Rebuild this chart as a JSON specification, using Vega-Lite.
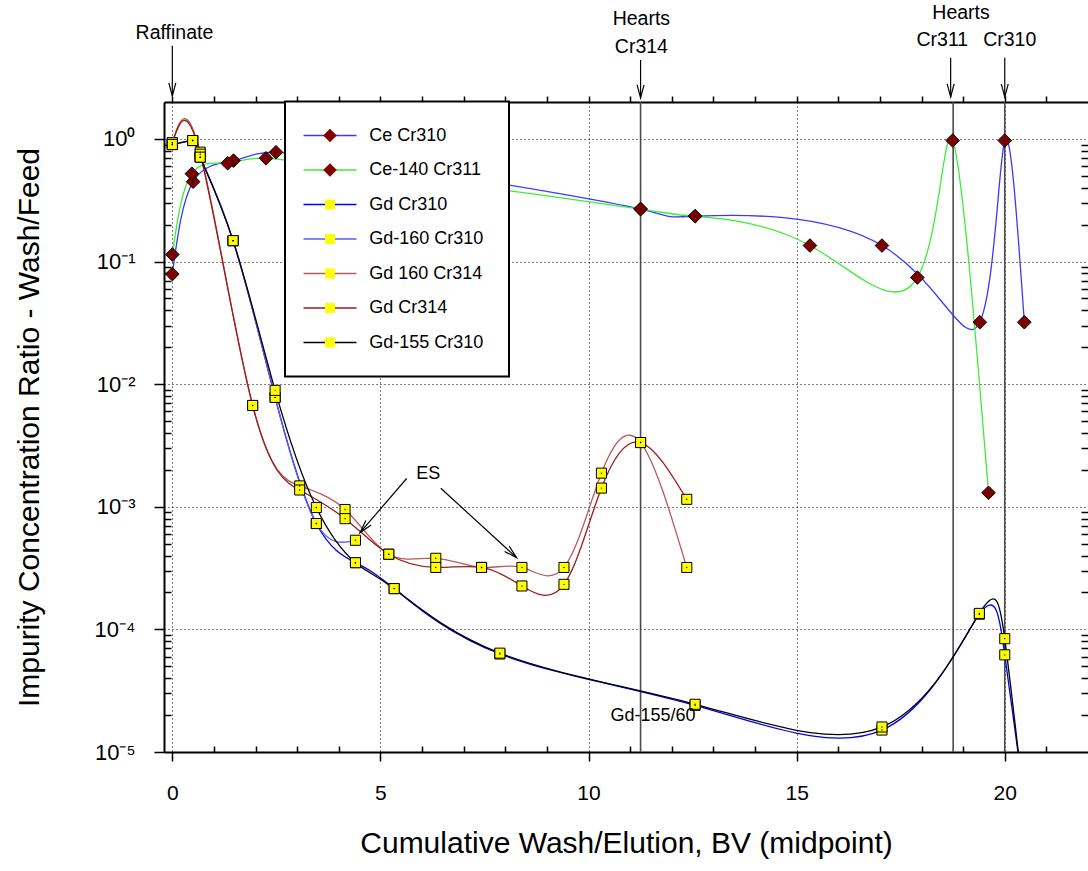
{
  "$schema": "https://vega.github.io/schema/vega-lite/v6.json",
  "width": 924,
  "height": 650,
  "autosize": {"type": "none"},
  "padding": {"left": 164, "top": 102, "right": 0, "bottom": 119},
  "background": "white",
  "config": {
    "view": {"stroke": null},
    "font": "Liberation Sans",
    "legend": {"strokeWidth": 2}
  },
  "datasets": {
    "pts": [
      {"series": "Ce Cr310", "bv": 0, "ratio": 0.079},
      {"series": "Ce Cr310", "bv": 0.5, "ratio": 0.448},
      {"series": "Ce Cr310", "bv": 1.47, "ratio": 0.665},
      {"series": "Ce Cr310", "bv": 2.49, "ratio": 0.778},
      {"series": "Ce Cr310", "bv": 4.5, "ratio": 0.629},
      {"series": "Ce Cr310", "bv": 7.0, "ratio": 0.481},
      {"series": "Ce Cr310", "bv": 11.25, "ratio": 0.268},
      {"series": "Ce Cr310", "bv": 12.56, "ratio": 0.234},
      {"series": "Ce Cr310", "bv": 17.05, "ratio": 0.135},
      {"series": "Ce Cr310", "bv": 19.4, "ratio": 0.032},
      {"series": "Ce Cr310", "bv": 20.0, "ratio": 0.97},
      {"series": "Ce Cr310", "bv": 20.47, "ratio": 0.032},
      {"series": "Ce-140 Cr311", "bv": 0, "ratio": 0.114},
      {"series": "Ce-140 Cr311", "bv": 0.47, "ratio": 0.52},
      {"series": "Ce-140 Cr311", "bv": 1.33, "ratio": 0.633},
      {"series": "Ce-140 Cr311", "bv": 2.25, "ratio": 0.695},
      {"series": "Ce-140 Cr311", "bv": 4.5, "ratio": 0.55},
      {"series": "Ce-140 Cr311", "bv": 7.0, "ratio": 0.424},
      {"series": "Ce-140 Cr311", "bv": 11.25, "ratio": 0.268},
      {"series": "Ce-140 Cr311", "bv": 12.56, "ratio": 0.234},
      {"series": "Ce-140 Cr311", "bv": 15.32, "ratio": 0.135},
      {"series": "Ce-140 Cr311", "bv": 17.9, "ratio": 0.074},
      {"series": "Ce-140 Cr311", "bv": 18.75, "ratio": 0.97},
      {"series": "Ce-140 Cr311", "bv": 19.61, "ratio": 0.0013},
      {"series": "Gd Cr310", "bv": 0, "ratio": 0.9},
      {"series": "Gd Cr310", "bv": 0.49, "ratio": 0.97},
      {"series": "Gd Cr310", "bv": 0.67, "ratio": 0.71},
      {"series": "Gd Cr310", "bv": 1.46, "ratio": 0.148},
      {"series": "Gd Cr310", "bv": 2.47, "ratio": 0.0078},
      {"series": "Gd Cr310", "bv": 3.46, "ratio": 0.00073},
      {"series": "Gd Cr310", "bv": 4.4, "ratio": 0.00035},
      {"series": "Gd Cr310", "bv": 5.33, "ratio": 0.000215},
      {"series": "Gd Cr310", "bv": 7.87, "ratio": 0.000063},
      {"series": "Gd Cr310", "bv": 12.56, "ratio": 0.000024},
      {"series": "Gd Cr310", "bv": 17.05, "ratio": 0.0000151},
      {"series": "Gd Cr310", "bv": 19.39, "ratio": 0.000133},
      {"series": "Gd Cr310", "bv": 20.0, "ratio": 0.000062},
      {"series": "Gd Cr310", "bv": 20.5, "ratio": 0.0000035},
      {"series": "Gd-160 Cr310", "bv": 0, "ratio": 0.9},
      {"series": "Gd-160 Cr310", "bv": 0.49, "ratio": 0.97},
      {"series": "Gd-160 Cr310", "bv": 0.67, "ratio": 0.71},
      {"series": "Gd-160 Cr310", "bv": 1.46, "ratio": 0.148},
      {"series": "Gd-160 Cr310", "bv": 2.47, "ratio": 0.0078},
      {"series": "Gd-160 Cr310", "bv": 3.46, "ratio": 0.00073},
      {"series": "Gd-160 Cr310", "bv": 4.4, "ratio": 0.000533},
      {"series": "Gd 160 Cr314", "bv": 0, "ratio": 0.93},
      {"series": "Gd 160 Cr314", "bv": 0.67, "ratio": 0.78},
      {"series": "Gd 160 Cr314", "bv": 1.93, "ratio": 0.0067},
      {"series": "Gd 160 Cr314", "bv": 3.06, "ratio": 0.00148},
      {"series": "Gd 160 Cr314", "bv": 4.15, "ratio": 0.00095},
      {"series": "Gd 160 Cr314", "bv": 5.2, "ratio": 0.00041},
      {"series": "Gd 160 Cr314", "bv": 6.33, "ratio": 0.00038},
      {"series": "Gd 160 Cr314", "bv": 7.43, "ratio": 0.00032},
      {"series": "Gd 160 Cr314", "bv": 8.4, "ratio": 0.00032},
      {"series": "Gd 160 Cr314", "bv": 9.41, "ratio": 0.00032},
      {"series": "Gd 160 Cr314", "bv": 10.31, "ratio": 0.00188},
      {"series": "Gd 160 Cr314", "bv": 11.25, "ratio": 0.00334},
      {"series": "Gd 160 Cr314", "bv": 12.36, "ratio": 0.00032},
      {"series": "Gd Cr314", "bv": 0, "ratio": 0.93},
      {"series": "Gd Cr314", "bv": 0.67, "ratio": 0.75},
      {"series": "Gd Cr314", "bv": 1.93, "ratio": 0.0067},
      {"series": "Gd Cr314", "bv": 3.06, "ratio": 0.00137},
      {"series": "Gd Cr314", "bv": 4.15, "ratio": 0.0008},
      {"series": "Gd Cr314", "bv": 5.2, "ratio": 0.00041},
      {"series": "Gd Cr314", "bv": 6.33, "ratio": 0.00032},
      {"series": "Gd Cr314", "bv": 7.43, "ratio": 0.00032},
      {"series": "Gd Cr314", "bv": 8.4, "ratio": 0.000226},
      {"series": "Gd Cr314", "bv": 9.41, "ratio": 0.000233},
      {"series": "Gd Cr314", "bv": 10.31, "ratio": 0.00142},
      {"series": "Gd Cr314", "bv": 11.25, "ratio": 0.00334},
      {"series": "Gd Cr314", "bv": 12.36, "ratio": 0.00115},
      {"series": "Gd-155 Cr310", "bv": 0, "ratio": 0.9},
      {"series": "Gd-155 Cr310", "bv": 0.49, "ratio": 0.97},
      {"series": "Gd-155 Cr310", "bv": 0.67, "ratio": 0.71},
      {"series": "Gd-155 Cr310", "bv": 1.46, "ratio": 0.148},
      {"series": "Gd-155 Cr310", "bv": 2.47, "ratio": 0.0089},
      {"series": "Gd-155 Cr310", "bv": 3.46, "ratio": 0.000985},
      {"series": "Gd-155 Cr310", "bv": 4.4, "ratio": 0.00035},
      {"series": "Gd-155 Cr310", "bv": 5.33, "ratio": 0.000215},
      {"series": "Gd-155 Cr310", "bv": 7.87, "ratio": 0.000064},
      {"series": "Gd-155 Cr310", "bv": 12.56, "ratio": 0.0000245},
      {"series": "Gd-155 Cr310", "bv": 17.05, "ratio": 0.000016},
      {"series": "Gd-155 Cr310", "bv": 19.39, "ratio": 0.000135},
      {"series": "Gd-155 Cr310", "bv": 20.0, "ratio": 0.000084},
      {"series": "Gd-155 Cr310", "bv": 20.5, "ratio": 0.000003}
    ],
    "hearts": [{"bv": 11.25}, {"bv": 18.76}, {"bv": 20.0}],
    "notes": [
      {"label": "Raffinate", "bv": 0.05, "ratio": 7.33},
      {"label": "Hearts", "bv": 11.27, "ratio": 9.5},
      {"label": "Cr314", "bv": 11.27, "ratio": 5.6},
      {"label": "Hearts", "bv": 18.95, "ratio": 10.7},
      {"label": "Cr311", "bv": 18.5, "ratio": 6.4},
      {"label": "Cr310", "bv": 20.12, "ratio": 6.4}
    ],
    "arrows": [
      {"bv": 0, "ratio": 5.74, "ratio2": 2.24},
      {"bv": 11.25, "ratio": 4.4, "ratio2": 2.16},
      {"bv": 18.7, "ratio": 4.6, "ratio2": 2.2},
      {"bv": 20.0, "ratio": 4.6, "ratio2": 2.2}
    ],
    "esArrows": [
      {"id": 1, "bv": 5.63, "ratio": 0.0017, "bv2": 4.51, "ratio2": 0.000615},
      {"id": 2, "bv": 6.45, "ratio": 0.001416, "bv2": 8.27, "ratio2": 0.000385}
    ],
    "inner": [
      {"label": "ES", "bv": 6.15, "ratio": 0.00184},
      {"label": "Gd-155/60", "bv": 11.55, "ratio": 0.0000196}
    ]
  },
  "layer": [
    {
      "layer": [
        {
          "data": {"name": "hearts"},
          "mark": {"type": "rule", "color": "#4d4d4d", "strokeWidth": 1.6, "clip": true},
          "encoding": {
            "x": {
              "field": "bv", "type": "quantitative",
              "scale": {"domain": [-0.2, 22], "nice": false, "zero": false},
              "axis": {
                "orient": "bottom", "values": [0, 5, 10, 15, 20],
                "tickSize": 9, "tickWidth": 1.5, "tickColor": "black",
                "domainColor": "black", "domainWidth": 2,
                "labelFont": "Liberation Sans", "labelFontSize": 21, "labelColor": "black",
                "labelPadding": 21, "labelFlush": false, "labelOverlap": false,
                "title": "Cumulative Wash/Elution, BV (midpoint)",
                "titleFont": "Liberation Sans", "titleFontSize": 30, "titleFontWeight": "normal",
                "titleColor": "black", "titlePadding": 25,
                "grid": true, "gridColor": "black", "gridDash": [1, 3], "gridWidth": 1, "gridOpacity": 1
              }
            }
          }
        },
        {
          "data": {"name": "pts"},
          "mark": {"type": "line", "interpolate": "natural", "strokeWidth": 1.3, "clip": true},
          "encoding": {
            "x": {"field": "bv", "type": "quantitative"},
            "y": {
              "field": "ratio", "type": "quantitative",
              "scale": {"type": "log", "domain": [0.00001, 2], "nice": false},
              "axis": {
                "orient": "left", "values": [0.00001, 0.0001, 0.001, 0.01, 0.1, 1],
                "labelExpr": "datum.value > 0.5 ? '10⁰' : datum.value > 0.05 ? '10⁻¹' : datum.value > 0.005 ? '10⁻²' : datum.value > 0.0005 ? '10⁻³' : datum.value > 0.00005 ? '10⁻⁴' : '10⁻⁵'",
                "tickSize": 10, "tickWidth": 1.5, "tickColor": "black",
                "domainColor": "black", "domainWidth": 2,
                "labelFont": "Liberation Sans", "labelFontSize": 22, "labelColor": "black",
                "labelPadding": 19, "labelOverlap": false, "labelFlush": false,
                "title": "Impurity Concentration Ratio - Wash/Feed",
                "titleFont": "Liberation Sans", "titleFontSize": 30, "titleFontWeight": "normal",
                "titleColor": "black", "titlePadding": 50,
                "grid": true, "gridColor": "black", "gridDash": [1, 3], "gridWidth": 1, "gridOpacity": 1
              }
            },
            "stroke": {
              "field": "series", "type": "nominal",
              "sort": ["Ce Cr310", "Ce-140 Cr311", "Gd Cr310", "Gd-160 Cr310", "Gd 160 Cr314", "Gd Cr314", "Gd-155 Cr310"],
              "scale": {
                "range": ["#3a3aff", "#3ced3c", "#0000ee", "#5a5aff", "#b35c5c", "#9e1c1c", "#000000"]
              },
              "legend": {
                "orient": "none", "legendX": 121, "legendY": -0.5, "title": null,
                "symbolType": "M-5.3,0H5.3", "symbolSize": 100, "symbolStrokeWidth": 1.5,
                "symbolOffset": 11, "labelOffset": 30.3,
                "labelFont": "Liberation Sans", "labelFontSize": 18, "labelColor": "black", "labelLimit": 300,
                "padding": 25, "rowPadding": 16.5,
                "strokeColor": "black", "fillColor": "white"
              }
            }
          }
        },
        {
          "data": {"name": "pts"},
          "mark": {"type": "point", "filled": true, "stroke": "black", "strokeWidth": 1, "opacity": 1, "size": 140, "clip": true},
          "encoding": {
            "x": {"field": "bv", "type": "quantitative"},
            "y": {"field": "ratio", "type": "quantitative"},
            "fill": {
              "field": "series", "type": "nominal",
              "scale": {
                "domain": ["Ce Cr310", "Ce-140 Cr311", "Gd Cr310", "Gd-160 Cr310", "Gd 160 Cr314", "Gd Cr314", "Gd-155 Cr310"],
                "range": ["#800000", "#800000", "#ffff00", "#ffff00", "#ffff00", "#ffff00", "#ffff00"]
              },
              "legend": {
                "orient": "none", "legendX": 121, "legendY": -0.5, "title": null,
                "symbolSize": 140, "symbolStrokeColor": "black", "symbolStrokeWidth": 1,
                "symbolOffset": 11, "labelOffset": 30.3,
                "labelFont": "Liberation Sans", "labelFontSize": 18, "labelColor": "black", "labelLimit": 300,
                "labelOpacity": 0,
                "padding": 25, "rowPadding": 16.5,
                "encode": {"symbols": {"update": {"stroke": {"value": "black"}, "strokeWidth": {"value": 1}}}}
              }
            },
            "shape": {
              "field": "series", "type": "nominal",
              "scale": {
                "domain": ["Ce Cr310", "Ce-140 Cr311", "Gd Cr310", "Gd-160 Cr310", "Gd 160 Cr314", "Gd Cr314", "Gd-155 Cr310"],
                "range": [
                  "M-4.48,0M4.48,0M-1.15,0L0,-1.15L1.15,0L0,1.15Z",
                  "M-4.48,0M4.48,0M-1.15,0L0,-1.15L1.15,0L0,1.15Z",
                  "M-4.48,0M4.48,0M-0.85,-0.85H0.85V0.85H-0.85Z",
                  "M-4.48,0M4.48,0M-0.85,-0.85H0.85V0.85H-0.85Z",
                  "M-4.48,0M4.48,0M-0.85,-0.85H0.85V0.85H-0.85Z",
                  "M-4.48,0M4.48,0M-0.85,-0.85H0.85V0.85H-0.85Z",
                  "M-4.48,0M4.48,0M-0.85,-0.85H0.85V0.85H-0.85Z"
                ]
              },
              "legend": {
                "orient": "none", "legendX": 121, "legendY": -0.5, "title": null,
                "symbolSize": 140, "symbolStrokeColor": "black", "symbolStrokeWidth": 1,
                "symbolOffset": 11, "labelOffset": 30.3,
                "labelFont": "Liberation Sans", "labelFontSize": 18, "labelColor": "black", "labelLimit": 300,
                "labelOpacity": 0,
                "padding": 25, "rowPadding": 16.5,
                "encode": {"symbols": {"update": {"stroke": {"value": "black"}, "strokeWidth": {"value": 1}}}}
              }
            }
          }
        },
        {
          "data": {"name": "pts"},
          "mark": {"type": "point", "filled": true, "size": 2, "color": "black", "opacity": 1, "clip": true},
          "encoding": {
            "x": {"field": "bv", "type": "quantitative"},
            "y": {"field": "ratio", "type": "quantitative"}
          }
        },
        {
          "data": {"name": "esArrows"},
          "mark": {"type": "rule", "color": "black", "strokeWidth": 1.2},
          "encoding": {
            "x": {"field": "bv", "type": "quantitative"},
            "y": {"field": "ratio", "type": "quantitative"},
            "x2": {"field": "bv2"},
            "y2": {"field": "ratio2"}
          }
        },
        {
          "data": {"name": "esArrows"},
          "transform": [{"filter": "datum.id === 1"}],
          "mark": {"type": "point", "shape": "M-0.35,-1.3L0,0L0.35,-1.3", "size": 400, "filled": false, "stroke": "black", "strokeWidth": 1.2, "opacity": 1, "angle": 40.8},
          "encoding": {
            "x": {"field": "bv2", "type": "quantitative"},
            "y": {"field": "ratio2", "type": "quantitative"}
          }
        },
        {
          "data": {"name": "esArrows"},
          "transform": [{"filter": "datum.id === 2"}],
          "mark": {"type": "point", "shape": "M-0.35,-1.3L0,0L0.35,-1.3", "size": 400, "filled": false, "stroke": "black", "strokeWidth": 1.2, "opacity": 1, "angle": -47.6},
          "encoding": {
            "x": {"field": "bv2", "type": "quantitative"},
            "y": {"field": "ratio2", "type": "quantitative"}
          }
        },
        {
          "data": {"name": "inner"},
          "mark": {"type": "text", "font": "Liberation Sans", "fontSize": 18, "color": "black", "align": "center", "baseline": "middle"},
          "encoding": {
            "x": {"field": "bv", "type": "quantitative"},
            "y": {"field": "ratio", "type": "quantitative"},
            "text": {"field": "label"}
          }
        },
        {
          "data": {"name": "arrows"},
          "mark": {"type": "rule", "color": "black", "strokeWidth": 1.2, "clip": false},
          "encoding": {
            "x": {"field": "bv", "type": "quantitative"},
            "y": {"field": "ratio", "type": "quantitative"},
            "y2": {"field": "ratio2"}
          }
        },
        {
          "data": {"name": "arrows"},
          "mark": {"type": "point", "shape": "M-0.35,-1.3L0,0L0.35,-1.3", "size": 400, "filled": false, "stroke": "black", "strokeWidth": 1.2, "opacity": 1, "clip": false},
          "encoding": {
            "x": {"field": "bv", "type": "quantitative"},
            "y": {"field": "ratio2", "type": "quantitative"}
          }
        },
        {
          "data": {"name": "notes"},
          "mark": {"type": "text", "font": "Liberation Sans", "fontSize": 19.5, "color": "black", "align": "center", "baseline": "middle", "clip": false},
          "encoding": {
            "x": {"field": "bv", "type": "quantitative"},
            "y": {"field": "ratio", "type": "quantitative"},
            "text": {"field": "label"}
          }
        }
      ]
    },
    {
      "data": {"name": "pts"},
      "mark": {"type": "point", "opacity": 0},
      "encoding": {
        "x": {
          "field": "bv", "type": "quantitative",
          "scale": {"domain": [-0.2, 22], "nice": false, "zero": false},
          "axis": {
            "orient": "bottom", "values": [1, 2, 3, 4, 6, 7, 8, 9, 11, 12, 13, 14, 16, 17, 18, 19, 21],
            "tickSize": -6, "tickWidth": 1.5, "tickColor": "black",
            "labels": false, "domain": false, "grid": false, "title": null
          }
        },
        "y": {
          "field": "ratio", "type": "quantitative",
          "scale": {"type": "log", "domain": [0.00001, 2], "nice": false},
          "axis": {
            "orient": "left",
            "values": [0.00002, 0.00003, 0.00004, 0.00005, 0.00006, 0.00007, 0.00008, 0.00009, 0.0002, 0.0003, 0.0004, 0.0005, 0.0006, 0.0007, 0.0008, 0.0009, 0.002, 0.003, 0.004, 0.005, 0.006, 0.007, 0.008, 0.009, 0.02, 0.03, 0.04, 0.05, 0.06, 0.07, 0.08, 0.09, 0.2, 0.3, 0.4, 0.5, 0.6, 0.7, 0.8, 0.9],
            "tickSize": -7, "tickWidth": 1.5, "tickColor": "black",
            "labels": false, "domain": false, "grid": false, "title": null
          }
        }
      }
    },
    {
      "data": {"name": "pts"},
      "mark": {"type": "point", "opacity": 0},
      "encoding": {
        "x": {
          "field": "bv", "type": "quantitative",
          "scale": {"domain": [-0.2, 22], "nice": false, "zero": false},
          "axis": {
            "orient": "top", "values": [0, 1, 2, 3, 4, 5, 6, 7, 8, 9, 10, 11, 12, 13, 14, 15, 16, 17, 18, 19, 20, 21],
            "tickSize": 6, "tickWidth": 1.5, "tickColor": "black",
            "domainColor": "black", "domainWidth": 2,
            "labels": false, "domain": true, "grid": false, "title": null
          }
        },
        "y": {
          "field": "ratio", "type": "quantitative",
          "scale": {"type": "log", "domain": [0.00001, 2], "nice": false},
          "axis": {
            "orient": "right",
            "values": [0.00002, 0.00003, 0.00004, 0.00005, 0.00006, 0.00007, 0.00008, 0.00009, 0.0002, 0.0003, 0.0004, 0.0005, 0.0006, 0.0007, 0.0008, 0.0009, 0.002, 0.003, 0.004, 0.005, 0.006, 0.007, 0.008, 0.009, 0.02, 0.03, 0.04, 0.05, 0.06, 0.07, 0.08, 0.09, 0.2, 0.3, 0.4, 0.5, 0.6, 0.7, 0.8, 0.9],
            "tickSize": -7, "tickWidth": 1.5, "tickColor": "black",
            "labels": false, "domain": false, "grid": false, "title": null
          }
        }
      }
    }
  ],
  "resolve": {"axis": {"x": "independent", "y": "independent"}}
}
